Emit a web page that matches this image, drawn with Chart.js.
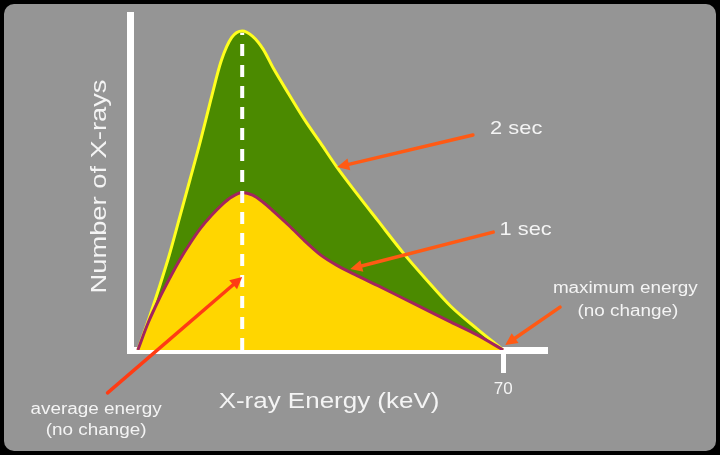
<!DOCTYPE html>
<html>
<head>
<meta charset="utf-8">
<script src="https://cdn.jsdelivr.net/npm/chart.js@4.4.1/dist/chart.umd.min.js"></script>
<style>
    html, body { margin: 0; padding: 0; background: #000; }
    #frame {
        position: absolute; left: 4px; top: 4px; width: 712px; height: 447px;
        background: #959595; border-radius: 10px;
    }
    #wrap { position: absolute; left: 0; top: 0; width: 720px; height: 455px; }
</style>
</head>
<body>
<div id="frame"></div>
<div id="wrap"><canvas id="spectrum" width="720" height="455"></canvas></div>
<script>
// X-ray energy in keV
const energies = [0, 2, 4, 6, 8, 10, 12, 14, 16, 18, 20, 22, 24, 26, 29, 32, 35, 38, 42, 46, 51, 55, 60, 65, 70];
// number of X-rays (relative)
const counts2sec = [0, 8.8, 18.2, 28.2, 39.5, 50.9, 62.4, 74.8, 86.4, 93.3, 95.2, 93.6, 89.8, 84, 76.2, 68.6, 61.8, 54.9, 46.6, 38.6, 28.7, 21.5, 13, 6.3, 0];
const counts1sec = [0, 8.2, 15, 21.1, 26.8, 31.8, 36.3, 40, 43.2, 45.7, 47, 46.2, 44.1, 41.4, 37.1, 32.5, 28.4, 25.4, 22.2, 19.2, 15.3, 12.2, 8.3, 4.5, 0];
const averageEnergy = 20;
const xTicks = [70];

const TEXT = '#f4f4f4';
const FONT = '"Liberation Sans", Arial, sans-serif';
const STRETCH = 1.18; // the source lettering is wide

// callouts, anchored in data units
const arrows = [
    { from: [64.2, 64.2], to: [38.2, 54.6], color: '#ff5a14' },
    { from: [68.1, 35.2], to: [40.7, 24.2], color: '#ff5a14' },
    { from: [80.9, 12.8], to: [70.4, 1.5], color: '#ff5a14' },
    { from: [-5.8, -12.8], to: [averageEnergy, 21.8], color: '#ff3c14' }
];
const notes = [
    { text: '2 sec', at: [72.5, 66.0], size: 18.5 },
    { text: '1 sec', at: [74.3, 35.7], size: 18.5 },
    { text: 'maximum energy', at: [93.4, 18.2], size: 16 },
    { text: '(no change)', at: [93.9, 11.6], size: 16 },
    { text: 'average energy', at: [-8.0, -17.9], size: 16 },
    { text: '(no change)', at: [-8.0, -24.2], size: 16 }
];

const toPoints = values => energies.map((e, i) => ({ x: e, y: values[i] }));

function wideText(ctx, text, x, y, size, rotation, stretch) {
    ctx.save();
    ctx.translate(x, y);
    ctx.rotate(rotation || 0);
    ctx.scale(stretch || STRETCH, 1);
    ctx.font = `${size}px ${FONT}`;
    ctx.fillStyle = TEXT;
    ctx.textAlign = 'center';
    ctx.textBaseline = 'middle';
    ctx.fillText(text, 0, 0);
    ctx.restore();
}

function drawArrow(ctx, x1, y1, x2, y2, color) {
    const angle = Math.atan2(y2 - y1, x2 - x1);
    const head = 12;
    const half = 6;
    const cos = Math.cos(angle), sin = Math.sin(angle);
    ctx.save();
    ctx.strokeStyle = color;
    ctx.fillStyle = color;
    ctx.lineWidth = 3.5;
    ctx.lineCap = 'round';
    ctx.beginPath();
    ctx.moveTo(x1, y1);
    ctx.lineTo(x2 - cos * head * 0.8, y2 - sin * head * 0.8);
    ctx.stroke();
    ctx.beginPath();
    ctx.moveTo(x2, y2);
    ctx.lineTo(x2 - head * cos + half * sin, y2 - head * sin - half * cos);
    ctx.lineTo(x2 - head * cos - half * sin, y2 - head * sin + half * cos);
    ctx.closePath();
    ctx.fill();
    ctx.restore();
}

const calloutPlugin = {
    id: 'callouts',
    afterDraw(chart) {
        const { ctx, chartArea, scales } = chart;
        const px = v => scales.x.getPixelForValue(v);
        const py = v => scales.y.getPixelForValue(v);

        // axis titles
        wideText(ctx, 'X-ray Energy (keV)', chartArea.left + 199, chartArea.bottom + 52, 22, 0);
        wideText(ctx, 'Number of X-rays', chartArea.left - 30, (chartArea.top + chartArea.bottom) / 2 + 4, 21.5, -Math.PI / 2, 1.27);

        arrows.forEach(a => drawArrow(ctx, px(a.from[0]), py(a.from[1]), px(a.to[0]), py(a.to[1]), a.color));
        notes.forEach(n => wideText(ctx, n.text, px(n.at[0]), py(n.at[1]), n.size, 0));
    }
};

new Chart(document.getElementById('spectrum'), {
    type: 'line',
    data: {
        datasets: [
            {
                label: 'average energy',
                data: [{ x: averageEnergy, y: 0 }, { x: averageEnergy, y: Math.max(...counts2sec) - 0.5 }],
                borderColor: '#ffffff',
                borderWidth: 4,
                borderDash: [12, 9],
                pointRadius: 0,
                fill: false,
                order: 0
            },
            {
                label: '1 sec',
                data: toPoints(counts1sec),
                borderColor: '#a3245e',
                backgroundColor: '#ffd600',
                borderWidth: 3,
                pointRadius: 0,
                cubicInterpolationMode: 'monotone',
                fill: 'origin',
                order: 1
            },
            {
                label: '2 sec',
                data: toPoints(counts2sec),
                borderColor: '#ffff1e',
                backgroundColor: '#4b8a00',
                borderWidth: 3,
                pointRadius: 0,
                cubicInterpolationMode: 'monotone',
                fill: 'origin',
                order: 2
            }
        ]
    },
    options: {
        responsive: false,
        animation: false,
        events: [],
        layout: { padding: { left: 0, top: 15, right: 173, bottom: 0 } },
        plugins: {
            legend: { display: false },
            tooltip: { enabled: false }
        },
        scales: {
            x: {
                type: 'linear',
                min: -1.5,
                max: 78.4,
                afterBuildTicks: scale => { scale.ticks = xTicks.map(v => ({ value: v })); },
                afterFit: scale => { scale.height = 105; },
                border: { display: true, color: '#ffffff', width: 7 },
                grid: {
                    drawOnChartArea: false,
                    drawTicks: true,
                    tickLength: 23,
                    tickWidth: 5,
                    tickColor: '#ffffff'
                },
                ticks: {
                    color: TEXT,
                    padding: 6,
                    maxRotation: 0,
                    font: { family: FONT, size: 17 }
                }
            },
            y: {
                min: 0,
                max: 100,
                afterFit: scale => { scale.width = 130; },
                border: { display: true, color: '#ffffff', width: 7 },
                grid: { display: false },
                ticks: { display: false }
            }
        }
    },
    plugins: [calloutPlugin]
});
</script>
</body>
</html>
